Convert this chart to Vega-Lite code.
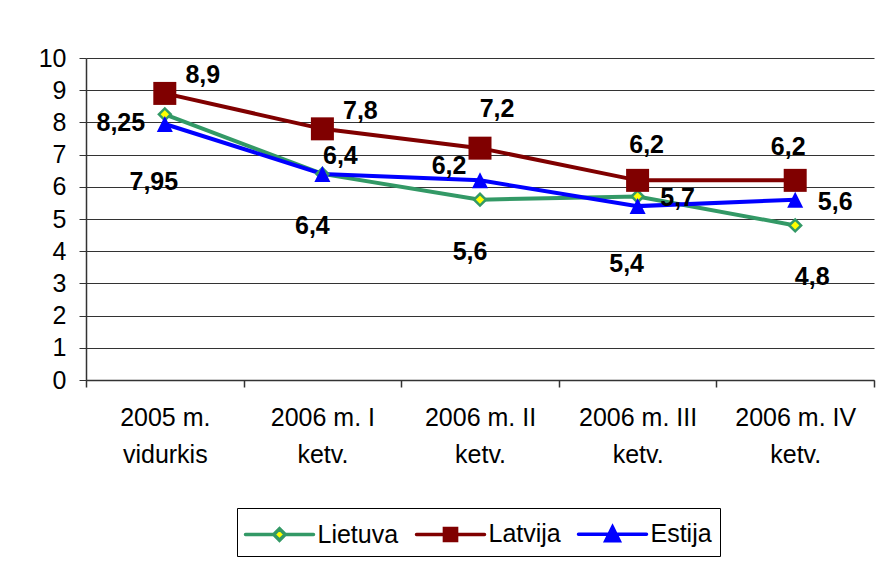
{
  "$schema": "https://vega.github.io/schema/vega-lite/v6.json",
  "width": 788,
  "height": 322,
  "autosize": {"type": "none"},
  "padding": {"left": 86, "top": 58, "right": 11, "bottom": 182},
  "background": "white",
  "config": {
    "locale": {"number": {"decimal": ",", "thousands": " ", "grouping": [3], "currency": ["", ""]}},
    "font": "Liberation Sans",
    "view": {"stroke": null}
  },
  "data": {
    "values": [
      {"cat": "2005 m. vidurkis", "series": "Lietuva", "value": 8.25},
      {"cat": "2006 m. I ketv.", "series": "Lietuva", "value": 6.4},
      {"cat": "2006 m. II ketv.", "series": "Lietuva", "value": 5.6},
      {"cat": "2006 m. III ketv.", "series": "Lietuva", "value": 5.7},
      {"cat": "2006 m. IV ketv.", "series": "Lietuva", "value": 4.8},
      {"cat": "2005 m. vidurkis", "series": "Latvija", "value": 8.9},
      {"cat": "2006 m. I ketv.", "series": "Latvija", "value": 7.8},
      {"cat": "2006 m. II ketv.", "series": "Latvija", "value": 7.2},
      {"cat": "2006 m. III ketv.", "series": "Latvija", "value": 6.2},
      {"cat": "2006 m. IV ketv.", "series": "Latvija", "value": 6.2},
      {"cat": "2005 m. vidurkis", "series": "Estija", "value": 7.95},
      {"cat": "2006 m. I ketv.", "series": "Estija", "value": 6.4},
      {"cat": "2006 m. II ketv.", "series": "Estija", "value": 6.2},
      {"cat": "2006 m. III ketv.", "series": "Estija", "value": 5.4},
      {"cat": "2006 m. IV ketv.", "series": "Estija", "value": 5.6}
    ]
  },
  "encoding": {
    "x": {
      "field": "cat", "type": "nominal", "sort": null,
      "scale": {"type": "band", "paddingInner": 0, "paddingOuter": 0},
      "axis": {
        "title": null,
        "labelExpr": "[slice(datum.label, 0, lastindexof(datum.label, ' ')), slice(datum.label, lastindexof(datum.label, ' ') + 1)]",
        "labelFontSize": 25, "labelLineHeight": 37, "labelAngle": 0, "labelPadding": 18,
        "labelBaseline": "top", "labelColor": "#000", "labelFont": "Liberation Sans",
        "tickSize": 7, "tickBand": "extent", "tickColor": "#333", "tickWidth": 1.5,
        "grid": false, "domainColor": "#333", "domainWidth": 1.5, "labelOverlap": false
      }
    },
    "y": {
      "field": "value", "type": "quantitative",
      "scale": {"domain": [0, 10], "nice": false},
      "axis": {
        "title": null, "values": [0, 1, 2, 3, 4, 5, 6, 7, 8, 9, 10],
        "labelFontSize": 25, "labelColor": "#000", "labelFont": "Liberation Sans",
        "labelPadding": 13, "tickSize": 7, "tickColor": "#333", "tickWidth": 1,
        "grid": true, "gridColor": "#333", "gridWidth": 1,
        "domainColor": "#333", "domainWidth": 1.5
      }
    }
  },
  "layer": [
    {
      "mark": {"type": "line", "strokeWidth": 4},
      "encoding": {
        "color": {
          "field": "series", "type": "nominal",
          "scale": {"domain": ["Lietuva", "Latvija", "Estija"], "range": ["#339966", "#800000", "#0000FF"]},
          "legend": {
            "orient": "none", "legendX": 151, "legendY": 450, "direction": "horizontal",
            "title": null, "strokeColor": "#000", "fillColor": "white", "padding": 8,
            "symbolSize": 1024, "symbolStrokeWidth": 3.5, "symbolOffset": 16.5,
            "labelOffset": 20, "labelFontSize": 25, "labelColor": "#000", "labelFont": "Liberation Sans",
            "columnPadding": 10,
            "encode": {
              "symbols": {
                "update": {
                  "shape": {"signal": "datum.value === 'Lietuva' ? 'M-2.125,0H-0.36M0.36,0H2.125M-0.36,0L0,-0.36L0.36,0L0,0.36Z' : datum.value === 'Latvija' ? 'M-2.125,0H2.125M-0.38,-0.38H0.38V0.38H-0.38Z' : 'M-2.125,0H2.125M0,-0.45L0.42,0.4L-0.42,0.4Z'"},
                  "fill": {"signal": "datum.value === 'Lietuva' ? '#FFFF00' : datum.value === 'Latvija' ? '#800000' : '#0000FF'"},
                  "strokeCap": {"value": "round"}
                }
              }
            }
          }
        }
      }
    },
    {
      "transform": [{"filter": "datum.series === 'Lietuva'"}],
      "mark": {"type": "point", "shape": "diamond", "size": 140, "filled": true, "fill": "#FFFF00", "stroke": "#339966", "strokeWidth": 2.5, "opacity": 1}
    },
    {
      "transform": [{"filter": "datum.series === 'Latvija'"}],
      "mark": {"type": "point", "shape": "square", "size": 529, "filled": true, "fill": "#800000", "strokeWidth": 0, "opacity": 1}
    },
    {
      "transform": [{"filter": "datum.series === 'Estija'"}],
      "mark": {"type": "point", "shape": "M0,-1L1,1L-1,1Z", "size": 256, "filled": true, "fill": "#0000FF", "strokeWidth": 0, "opacity": 1}
    },
    {
      "transform": [{"filter": "datum.series === 'Latvija' && (datum.cat === '2005 m. vidurkis' || datum.cat === '2006 m. I ketv.')"}],
      "mark": {"type": "text", "fontWeight": "bold", "fontSize": 25, "font": "Liberation Sans", "color": "#000", "dx": 38, "dy": -18},
      "encoding": {"text": {"field": "value", "type": "quantitative", "format": "~g"}}
    },
    {
      "transform": [{"filter": "datum.series === 'Estija' && datum.cat === '2006 m. I ketv.'"}],
      "mark": {"type": "text", "fontWeight": "bold", "fontSize": 25, "font": "Liberation Sans", "color": "#000", "dx": 18, "dy": -17.5},
      "encoding": {"text": {"field": "value", "type": "quantitative", "format": "~g"}}
    },
    {
      "transform": [{"filter": "datum.series === 'Latvija' && datum.cat === '2006 m. II ketv.'"}],
      "mark": {"type": "text", "fontWeight": "bold", "fontSize": 25, "font": "Liberation Sans", "color": "#000", "dx": 17, "dy": -39.5},
      "encoding": {"text": {"field": "value", "type": "quantitative", "format": "~g"}}
    },
    {
      "transform": [{"filter": "datum.series === 'Latvija' && datum.cat === '2006 m. III ketv.'"}],
      "mark": {"type": "text", "fontWeight": "bold", "fontSize": 25, "font": "Liberation Sans", "color": "#000", "dx": 9, "dy": -35.5},
      "encoding": {"text": {"field": "value", "type": "quantitative", "format": "~g"}}
    },
    {
      "transform": [{"filter": "datum.series === 'Latvija' && datum.cat === '2006 m. IV ketv.'"}],
      "mark": {"type": "text", "fontWeight": "bold", "fontSize": 25, "font": "Liberation Sans", "color": "#000", "dx": -7, "dy": -33.5},
      "encoding": {"text": {"field": "value", "type": "quantitative", "format": "~g"}}
    },
    {
      "transform": [{"filter": "(datum.series === 'Lietuva' && datum.cat === '2006 m. III ketv.') || (datum.series === 'Estija' && datum.cat === '2006 m. IV ketv.')"}],
      "mark": {"type": "text", "fontWeight": "bold", "fontSize": 25, "font": "Liberation Sans", "color": "#000", "dx": 40, "dy": 2},
      "encoding": {"text": {"field": "value", "type": "quantitative", "format": "~g"}}
    },
    {
      "transform": [{"filter": "datum.series === 'Lietuva' && datum.cat === '2005 m. vidurkis'"}],
      "mark": {"type": "text", "fontWeight": "bold", "fontSize": 25, "font": "Liberation Sans", "color": "#000", "dx": -44, "dy": 8.5},
      "encoding": {"text": {"field": "value", "type": "quantitative", "format": "~g"}}
    },
    {
      "transform": [{"filter": "datum.series === 'Estija' && datum.cat === '2006 m. II ketv.'"}],
      "mark": {"type": "text", "fontWeight": "bold", "fontSize": 25, "font": "Liberation Sans", "color": "#000", "dx": -31, "dy": -14},
      "encoding": {"text": {"field": "value", "type": "quantitative", "format": "~g"}}
    },
    {
      "transform": [{"filter": "datum.series === 'Estija' && (datum.cat === '2005 m. vidurkis' || datum.cat === '2006 m. III ketv.')"}],
      "mark": {"type": "text", "fontWeight": "bold", "fontSize": 25, "font": "Liberation Sans", "color": "#000", "dx": -11, "dy": 57.5},
      "encoding": {"text": {"field": "value", "type": "quantitative", "format": "~g"}}
    },
    {
      "transform": [{"filter": "datum.series === 'Lietuva' && (datum.cat === '2006 m. I ketv.' || datum.cat === '2006 m. II ketv.')"}],
      "mark": {"type": "text", "fontWeight": "bold", "fontSize": 25, "font": "Liberation Sans", "color": "#000", "dx": -10, "dy": 52.5},
      "encoding": {"text": {"field": "value", "type": "quantitative", "format": "~g"}}
    },
    {
      "transform": [{"filter": "datum.series === 'Lietuva' && datum.cat === '2006 m. IV ketv.'"}],
      "mark": {"type": "text", "fontWeight": "bold", "fontSize": 25, "font": "Liberation Sans", "color": "#000", "dx": 17, "dy": 51.5},
      "encoding": {"text": {"field": "value", "type": "quantitative", "format": "~g"}}
    }
  ]
}
